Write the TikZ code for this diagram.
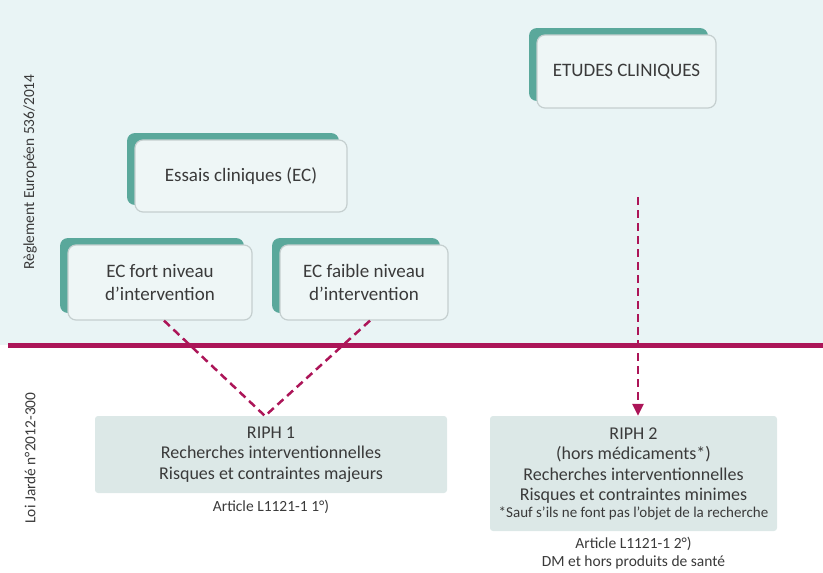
\documentclass[tikz,border=0pt]{standalone}
\usepackage{fontspec}
\setmainfont{Carlito}
\usetikzlibrary{shadows,arrows.meta}
\definecolor{bgtop}{HTML}{E9F4F5}
\definecolor{tealsh}{HTML}{5AA89B}
\definecolor{boxfill}{HTML}{EEF6F6}
\definecolor{boxline}{HTML}{C5CFCF}
\definecolor{riphfill}{HTML}{DCE8E7}
\definecolor{lawline}{HTML}{AC1558}
\definecolor{ink}{HTML}{3A3A3A}
\begin{document}
\begin{tikzpicture}[x=1pt,y=-1pt,
  ecbox/.style={draw=boxline, line width=1.2pt, fill=boxfill, rounded corners=8pt,
    general shadow={fill=tealsh, shadow xshift=-8pt, shadow yshift=7pt},
    align=center, text=ink, font=\fontsize{19}{23}\selectfont, inner sep=0pt},
  riphbox/.style={fill=riphfill, rounded corners=3pt, align=center, text=ink,
    font=\fontsize{18}{20.5}\selectfont, inner sep=0pt},
  note/.style={text=ink, align=center, font=\fontsize{15.5}{18}\selectfont},
  sidelabel/.style={text=ink, rotate=90, font=\fontsize{15.4}{17}\selectfont},
  link/.style={draw=lawline, line width=2.5pt, dash pattern=on 8pt off 5pt}
]
\useasboundingbox (0,0) rectangle (823,573);
% European-regulation band and the dividing line
\fill[bgtop] (0,0) rectangle (823,345);
\draw[lawline, line width=5pt] (8,345) -- (823,345);

% side captions
\node[sidelabel] (reg) at (30,172) {Règlement Européen 536/2014};
\node[sidelabel] (loi) at (30,458) {Loi Jardé n°2012-300};

% upper boxes
\node[ecbox, minimum width=179pt, minimum height=73pt] (etudes) at (626.5,71.5) {ETUDES CLINIQUES};
\node[ecbox, minimum width=212pt, minimum height=72pt] (essais) at (241,176) {Essais cliniques (EC)};
\node[ecbox, minimum width=184pt, minimum height=75pt] (fort) at (160,282.5) {EC fort niveau\\d’intervention};
\node[ecbox, minimum width=168pt, minimum height=75pt] (faible) at (364,282.5) {EC faible niveau\\d’intervention};

% lower boxes
\node[riphbox, minimum width=352pt, minimum height=77pt] (riph1) at (271,454.5)
  {RIPH 1\\Recherches interventionnelles\\Risques et contraintes majeurs};
\node[riphbox, minimum width=287pt, minimum height=115pt] (riph2) at (633.5,473.5)
  {RIPH 2\\(hors médicaments*)\\Recherches interventionnelles\\Risques et contraintes minimes\\[-4pt]
   {\fontsize{15}{16}\selectfont *Sauf s’ils ne font pas l’objet de la recherche}};

\node[note] (art1) at (271,507) {Article L1121-1 1°)};
\node[note] (art2) at (633.5,553) {Article L1121-1 2°)\\DM et hors produits de santé};

% connectors
\coordinate (meet) at (265,416);
\coordinate (drop) at (638,197);
\draw[link] ([xshift=4pt]fort.south) -- (meet);
\draw[link] ([xshift=6pt]faible.south) -- (meet);
\draw[link, -{Triangle[length=12pt,width=11pt]}] (drop) -- (riph2.north -| drop);
\end{tikzpicture}
\end{document}
